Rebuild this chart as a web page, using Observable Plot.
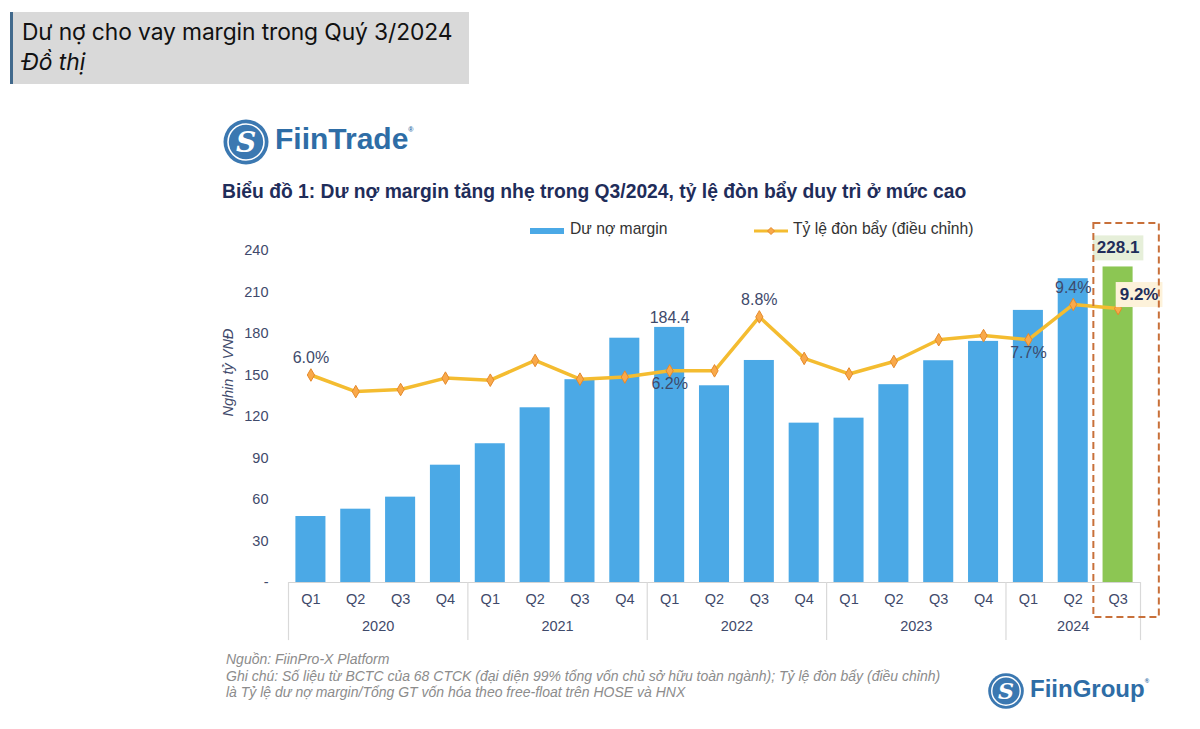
<!DOCTYPE html>
<html>
<head>
<meta charset="utf-8">
<script src="https://cdn.jsdelivr.net/npm/d3@7"></script>
<script src="https://cdn.jsdelivr.net/npm/@observablehq/plot@0.6"></script>
<style>
  html, body { margin: 0; padding: 0; background: #fff; }
  #page { position: relative; width: 1200px; height: 729px; overflow: hidden; background: #fff; font-family: "Liberation Sans", Arial, sans-serif; }
  #chart { position: absolute; left: 0; top: 0; }
  .abs { position: absolute; white-space: nowrap; }
  #header { left: 10px; top: 12px; width: 447px; height: 72px; background: #d9d9d9; border-left: 3px solid #41698c; padding-left: 9px; font-family: Inter, "Open Sans", sans-serif; color: #111; }
  #header .t1 { position: absolute; top: 6px; font-size: 22.8px; letter-spacing: -0.1px; }
  #header .t2 { position: absolute; top: 36px; font-size: 22.8px; font-style: italic; }
  .brand { font-family: "Liberation Sans", Arial, sans-serif; font-weight: bold; color: #2e6da6; }
  #title { left: 222px; top: 181px; font-size: 19.3px; font-weight: bold; color: #1f2d5a; }
  .legend { top: 220px; font-size: 15.7px; color: #333; }
  .foot { left: 226px; font-size: 14px; font-style: italic; color: #8c8c8c; }
</style>
</head>
<body>
<div id="page">
  <div id="chart"></div>
  <div id="header" class="abs"><div class="t1">Dư nợ cho vay margin trong Quý 3/2024</div><div class="t2">Đồ thị</div></div>

  <svg class="abs" style="left:222px;top:118px" width="48" height="48" viewBox="0 0 48 48">
    <circle cx="24" cy="24" r="22.5" fill="#3b78b1"/>
    <circle cx="24" cy="24" r="18" fill="none" stroke="#fff" stroke-width="1.6"/>
    <text x="24" y="34" text-anchor="middle" font-family="DejaVu Serif, serif" font-style="italic" font-weight="bold" font-size="28" fill="#fff">S</text>
  </svg>
  <div class="abs brand" style="left:275px;top:122px;font-size:30px;">FiinTrade<sup style="font-size:7px;vertical-align:top;position:relative;top:4px;">®</sup></div>

  <div id="title" class="abs">Biểu đồ 1: Dư nợ margin tăng nhẹ trong Q3/2024, tỷ lệ đòn bẩy duy trì ở mức cao</div>

  <svg class="abs" style="left:530px;top:226px" width="36" height="10"><rect x="0" y="2" width="34" height="6" fill="#4ba9e6"/></svg>
  <div class="abs legend" style="left:570px">Dư nợ margin</div>
  <svg class="abs" style="left:754px;top:224px" width="36" height="14"><line x1="0" y1="7" x2="34" y2="7" stroke="#f4bc30" stroke-width="3"/><path d="M17,3.5 L20.5,7 L17,10.5 L13.5,7 Z" fill="#f9a94a" stroke="#e5892b" stroke-width="1"/></svg>
  <div class="abs legend" style="left:793px">Tỷ lệ đòn bẩy (điều chỉnh)</div>

  <div class="abs foot" style="top:651px">Nguồn: FiinPro-X Platform</div>
  <div class="abs foot" style="top:668px">Ghi chú: Số liệu từ BCTC của 68 CTCK (đại diện 99% tổng vốn chủ sở hữu toàn ngành); Tỷ lệ đòn bẩy (điều chỉnh)</div>
  <div class="abs foot" style="top:684px">là Tỷ lệ dư nợ margin/Tổng GT vốn hóa theo free-float trên HOSE và HNX</div>

  <svg class="abs" style="left:987px;top:672px" width="38" height="38" viewBox="0 0 48 48">
    <circle cx="24" cy="24" r="22.5" fill="#3b78b1"/>
    <circle cx="24" cy="24" r="18" fill="none" stroke="#fff" stroke-width="1.8"/>
    <text x="24" y="34" text-anchor="middle" font-family="DejaVu Serif, serif" font-style="italic" font-weight="bold" font-size="28" fill="#fff">S</text>
  </svg>
  <div class="abs brand" style="left:1030px;top:675px;font-size:24px;">FiinGroup<sup style="font-size:6px;vertical-align:top;position:relative;top:3px;">®</sup></div>
</div>

<script>
// ---- Data ----
const quarters = ["Q1","Q2","Q3","Q4","Q1","Q2","Q3","Q4","Q1","Q2","Q3","Q4","Q1","Q2","Q3","Q4","Q1","Q2","Q3"];
const years    = ["2020","2020","2020","2020","2021","2021","2021","2021","2022","2022","2022","2022","2023","2023","2023","2023","2024","2024","2024"];
// Dư nợ margin (nghìn tỷ VNĐ)
const marginDebt = [47.7, 53.0, 61.7, 84.8, 100.3, 126.3, 146.6, 176.6, 184.4, 142.2, 160.5, 115.2, 118.8, 143.0, 160.3, 174.3, 196.7, 219.6, 228.1];
// Tỷ lệ đòn bẩy (điều chỉnh), %
const leverage = [6.0, 5.2, 5.3, 5.85, 5.75, 6.7, 5.8, 5.9, 6.2, 6.2, 8.8, 6.8, 6.05, 6.65, 7.7, 7.9, 7.7, 9.4, 9.2];
const yTicks = [0, 30, 60, 90, 120, 150, 180, 210, 240];
// secondary (hidden) axis domain for the leverage line
const leverageDomain = [-4, 12];
// which points carry value labels
const leverageLabelsAbove = [0, 10, 17];
const leverageLabelsBelow = [8, 16];
const marginLabels = [8];
const highlightIndex = 18;

// ---- Build ----
const data = quarters.map((q, i) => ({i, q, year: years[i], margin: marginDebt[i], ratio: leverage[i]}));
const yMax = yTicks[yTicks.length - 1];
const rs = d3.scaleLinear(leverageDomain, [0, yMax]);
const yearData = d3.groups(data, d => d.year).map(([year, ds]) => ({year, x: d3.mean(ds, d => d.i)}));
const bounds = [-0.5, ...data.filter((d, k) => k > 0 && d.year !== data[k - 1].year).map(d => d.i - 0.5), data.length - 0.5];
const pct = v => v.toFixed(1) + "%";

const blue = "#4ba9e6", green = "#8cc653", txt = "#3e4a6b", axisTxt = "#3f4a6b";
const hl = data[highlightIndex];

const chart = Plot.plot({
  width: 1200, height: 729,
  marginLeft: 288, marginRight: 60, marginTop: 250, marginBottom: 147,
  x: {type: "linear", domain: [-0.5, data.length - 0.5], axis: null},
  y: {domain: [0, yMax], axis: null},
  style: {fontFamily: "Liberation Sans, Arial, sans-serif", background: "transparent", overflow: "visible"},
  marks: [
    // axes
    Plot.ruleY([0], {stroke: "#d4d4d4", strokeWidth: 1.2}),
    Plot.ruleX(bounds, {x: d => d, y1: 0, y2: -42, stroke: "#d9d9d9", strokeWidth: 1.2}),
    Plot.text(yTicks, {y: d => d, text: d => d === 0 ? "-" : String(d), frameAnchor: "left", dx: -20, textAnchor: "end", fontSize: 14.5, fill: axisTxt}),
    Plot.text(["Nghin tỷ VNĐ"], {frameAnchor: "left", dx: -60, rotate: -90, fontStyle: "italic", fontSize: 14.5, fill: axisTxt}),
    Plot.text(data, {x: "i", text: "q", frameAnchor: "bottom", dy: 21, fontSize: 14.5, fill: axisTxt}),
    Plot.text(yearData, {x: "x", text: "year", frameAnchor: "bottom", dy: 48, fontSize: 14.5, fill: axisTxt}),
    // bars
    Plot.rectY(data.filter(d => d.i !== highlightIndex), {x1: d => d.i - 0.335, x2: d => d.i + 0.335, y: "margin", fill: blue}),
    Plot.rectY([hl], {x1: d => d.i - 0.335, x2: d => d.i + 0.335, y: "margin", fill: green}),
    // line
    Plot.line(data, {x: "i", y: d => rs(d.ratio), stroke: "#f4bc30", strokeWidth: 3.5}),
    Plot.dot(data, {x: "i", y: d => rs(d.ratio), symbol: "diamond", r: 3.8, fill: "#f9a94a", stroke: "#e5892b", strokeWidth: 1}),
    // labels
    Plot.text(data.filter(d => leverageLabelsAbove.includes(d.i)), {x: "i", y: d => rs(d.ratio), text: d => pct(d.ratio), dy: -17, fontSize: 16, fill: txt}),
    Plot.text(data.filter(d => leverageLabelsBelow.includes(d.i)), {x: "i", y: d => rs(d.ratio), text: d => pct(d.ratio), dy: 13, fontSize: 16, fill: txt}),
    Plot.text(data.filter(d => marginLabels.includes(d.i)), {x: "i", y: "margin", text: d => d.margin.toFixed(1), dy: -10, fontSize: 16, fill: txt}),
    Plot.text([hl], {x: "i", y: "margin", text: d => d.margin.toFixed(1), dy: -19, fontSize: 17, fontWeight: "bold", fill: "#1f2d5a"}),
    Plot.text([hl], {x: "i", y: d => rs(d.ratio), text: d => pct(d.ratio), dx: 21, dy: -14, fontSize: 17, fontWeight: "bold", fill: "#1f2d5a"}),
    // highlight box
    Plot.rect([hl], {x1: d => d.i - 0.54, x2: d => d.i + 0.92, y1: -25.3, y2: 259.6, fill: "none", stroke: "#c8703a", strokeDasharray: "7,4", strokeWidth: 2})
  ]
});
document.getElementById("chart").append(chart);

// background boxes behind highlighted labels
const bgFor = {[hl.margin.toFixed(1)]: "#e6efd9", [pct(hl.ratio)]: "#fdf2da"};
chart.querySelectorAll("text").forEach(t => {
  const key = t.textContent;
  if (bgFor[key]) {
    const b = t.getBBox();
    const r = document.createElementNS("http://www.w3.org/2000/svg", "rect");
    r.setAttribute("x", b.x - 4); r.setAttribute("y", b.y - 3);
    r.setAttribute("width", b.width + 8); r.setAttribute("height", b.height + 6);
    r.setAttribute("fill", bgFor[key]);
    const tr = t.getAttribute("transform");
    if (tr) r.setAttribute("transform", tr);
    t.parentNode.insertBefore(r, t);
  }
});
</script>
</body>
</html>
